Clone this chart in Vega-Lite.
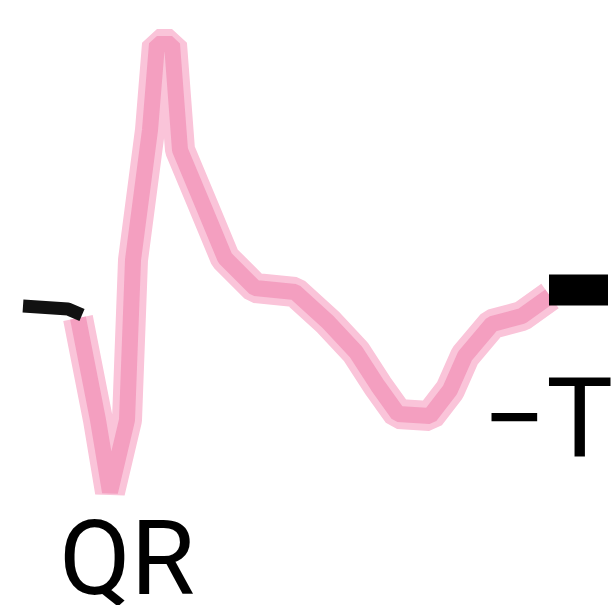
{
  "$schema": "https://vega.github.io/schema/vega-lite/v6.json",
  "width": 615,
  "height": 605,
  "autosize": "none",
  "padding": 0,
  "background": "white",
  "config": {"view": {"stroke": null}},
  "datasets": {
    "wave": [
      {"i": 1, "t": 78, "v": 318},
      {"i": 2, "t": 98, "v": 420},
      {"i": 3, "t": 110, "v": 492},
      {"i": 4, "t": 127, "v": 420},
      {"i": 5, "t": 133, "v": 260},
      {"i": 6, "t": 150, "v": 130},
      {"i": 7, "t": 157, "v": 44},
      {"i": 8, "t": 172, "v": 44},
      {"i": 9, "t": 180, "v": 150},
      {"i": 10, "t": 203, "v": 205},
      {"i": 11, "t": 225, "v": 258},
      {"i": 12, "t": 255, "v": 288},
      {"i": 13, "t": 295, "v": 292},
      {"i": 14, "t": 328, "v": 322},
      {"i": 15, "t": 356, "v": 352},
      {"i": 16, "t": 378, "v": 386},
      {"i": 17, "t": 398, "v": 414},
      {"i": 18, "t": 430, "v": 416},
      {"i": 19, "t": 450, "v": 390},
      {"i": 20, "t": 465, "v": 356},
      {"i": 21, "t": 492, "v": 324},
      {"i": 22, "t": 522, "v": 316},
      {"i": 23, "t": 550, "v": 296}
    ],
    "leftEnd": [
      {"i": 1, "t": 23, "v": 306},
      {"i": 2, "t": 68, "v": 309},
      {"i": 3, "t": 82, "v": 315}
    ],
    "rightEnd": [
      {"i": 1, "t": 549, "v": 290},
      {"i": 2, "t": 608, "v": 290}
    ],
    "labels": [
      {"name": "QR", "t": 127, "v": 594},
      {"name": "−T", "t": 613, "v": 457}
    ]
  },
  "layer": [
    {
      "data": {"name": "wave"},
      "mark": {"type": "line", "color": "#fac4d9", "strokeWidth": 30, "strokeCap": "butt", "strokeJoin": "bevel"},
      "encoding": {
        "x": {"field": "t", "type": "quantitative", "scale": {"domain": [0, 615]}, "axis": null},
        "y": {"field": "v", "type": "quantitative", "scale": {"domain": [0, 605], "reverse": true}, "axis": null},
        "order": {"field": "i"}
      }
    },
    {
      "data": {"name": "wave"},
      "mark": {"type": "line", "color": "#ee79a8", "opacity": 0.5, "strokeWidth": 16, "strokeCap": "butt", "strokeJoin": "bevel"},
      "encoding": {
        "x": {"field": "t", "type": "quantitative", "scale": {"domain": [0, 615]}, "axis": null},
        "y": {"field": "v", "type": "quantitative", "scale": {"domain": [0, 605], "reverse": true}, "axis": null},
        "order": {"field": "i"}
      }
    },
    {
      "data": {"name": "leftEnd"},
      "mark": {"type": "line", "color": "#111111", "strokeWidth": 13, "strokeCap": "butt", "strokeJoin": "bevel"},
      "encoding": {
        "x": {"field": "t", "type": "quantitative", "scale": {"domain": [0, 615]}, "axis": null},
        "y": {"field": "v", "type": "quantitative", "scale": {"domain": [0, 605], "reverse": true}, "axis": null},
        "order": {"field": "i"}
      }
    },
    {
      "data": {"name": "rightEnd"},
      "mark": {"type": "line", "color": "#000000", "strokeWidth": 31, "strokeCap": "butt"},
      "encoding": {
        "x": {"field": "t", "type": "quantitative", "scale": {"domain": [0, 615]}, "axis": null},
        "y": {"field": "v", "type": "quantitative", "scale": {"domain": [0, 605], "reverse": true}, "axis": null},
        "order": {"field": "i"}
      }
    },
    {
      "data": {"name": "labels"},
      "transform": [{"filter": "datum.name === 'QR'"}],
      "mark": {"type": "text", "font": "Roboto", "fontSize": 104, "align": "center", "baseline": "alphabetic", "color": "#000000"},
      "encoding": {
        "x": {"field": "t", "type": "quantitative", "scale": {"domain": [0, 615]}, "axis": null},
        "y": {"field": "v", "type": "quantitative", "scale": {"domain": [0, 605], "reverse": true}, "axis": null},
        "text": {"field": "name"}
      }
    },
    {
      "data": {"name": "labels"},
      "transform": [{"filter": "datum.name !== 'QR'"}],
      "mark": {"type": "text", "font": "Roboto", "fontSize": 112, "align": "right", "baseline": "alphabetic", "color": "#000000"},
      "encoding": {
        "x": {"field": "t", "type": "quantitative", "scale": {"domain": [0, 615]}, "axis": null},
        "y": {"field": "v", "type": "quantitative", "scale": {"domain": [0, 605], "reverse": true}, "axis": null},
        "text": {"field": "name"}
      }
    }
  ]
}
